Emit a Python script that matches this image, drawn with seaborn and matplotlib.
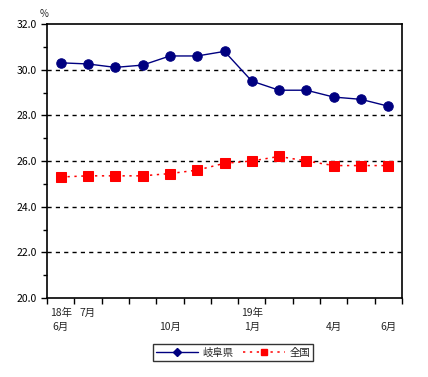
import pandas as pd
import seaborn as sns
import matplotlib.pyplot as plt
import matplotlib.transforms as mtransforms
from matplotlib.lines import Line2D
from matplotlib.ticker import MultipleLocator

sns.set_theme(style="white")
plt.rcParams['font.family'] = ['Noto Sans CJK JP', 'DejaVu Sans']

months = ["18/6", "18/7", "18/8", "18/9", "18/10", "18/11", "18/12",
          "19/1", "19/2", "19/3", "19/4", "19/5", "19/6"]
gifu = [30.3, 30.25, 30.1, 30.2, 30.6, 30.6, 30.8, 29.5, 29.1, 29.1, 28.8, 28.7, 28.4]
zenkoku = [25.3, 25.35, 25.35, 25.35, 25.45, 25.6, 25.9, 26.0, 26.2, 26.0, 25.8, 25.8, 25.8]
row1 = ["18年", "7月", "", "", "", "", "", "19年", "", "", "", "", ""]
row2 = ["6月", "", "", "", "10月", "", "", "1月", "", "", "4月", "", "6月"]

df = pd.DataFrame({"idx": range(len(months)), "month": months,
                   "gifu": gifu, "zenkoku": zenkoku})

fig = plt.figure(figsize=(4.28, 3.77), dpi=100)
ax = fig.add_axes([47/428, 1-298/377, 355/428, 274/377])

sns.lineplot(data=df, x="idx", y="gifu", ax=ax, color="#000080", lw=1,
             marker="o", markersize=6.8, markeredgecolor="#000080")
sns.lineplot(data=df, x="idx", y="zenkoku", ax=ax, color="#ff0000", lw=1.1,
             linestyle=(0, (1.5, 3)), marker="s", markersize=7.5,
             markeredgecolor="#ff0000")

ax.set_xlim(-0.5, 12.5)
ax.set_ylim(20, 32)
ax.yaxis.set_major_locator(MultipleLocator(2))
ax.yaxis.set_minor_locator(MultipleLocator(1))
ax.set_yticklabels([f"{v:.1f}" for v in ax.get_yticks()])
ax.set_xticks([i - 0.5 for i in range(14)])
ax.set_xticklabels([])
ax.tick_params(axis="both", which="both", direction="out", length=4, width=1,
               colors="black", labelsize=7.5, left=True, bottom=True)
ax.tick_params(axis="y", which="minor", length=3)
ax.set(xlabel="", ylabel="")
for v in [22, 24, 26, 28, 30]:
    ax.axhline(v, color="black", lw=1, ls=(0, (3, 3)), zorder=0)
for s in ax.spines.values():
    s.set_color("black")
    s.set_linewidth(1.2)

trans = mtransforms.blended_transform_factory(ax.transData, fig.transFigure)
for i, (a, b) in enumerate(zip(row1, row2)):
    if a:
        ax.text(i, 1 - 313/377, a, transform=trans, ha="center", va="center", fontsize=7.5)
    if b:
        ax.text(i, 1 - 327/377, b, transform=trans, ha="center", va="center", fontsize=7.5)

fig.text(44/428, 1 - 14/377, "%", ha="center", va="center", fontsize=7)

handles = [
    Line2D([], [], color="#000080", lw=1, marker="D", markersize=4),
    Line2D([], [], color="#ff0000", lw=1.1, ls=(0, (1.5, 3)), marker="s", markersize=5),
]
leg = fig.legend(handles, ["岐阜県", "全国"], loc="center", ncol=2,
                 bbox_to_anchor=(233/428, 1 - 352.5/377), fontsize=7.5,
                 frameon=True, fancybox=False, edgecolor="black",
                 handlelength=4, borderpad=0.3, columnspacing=1, handletextpad=0.4)
leg.get_frame().set_linewidth(1)

fig.savefig("out.png", dpi=100)
